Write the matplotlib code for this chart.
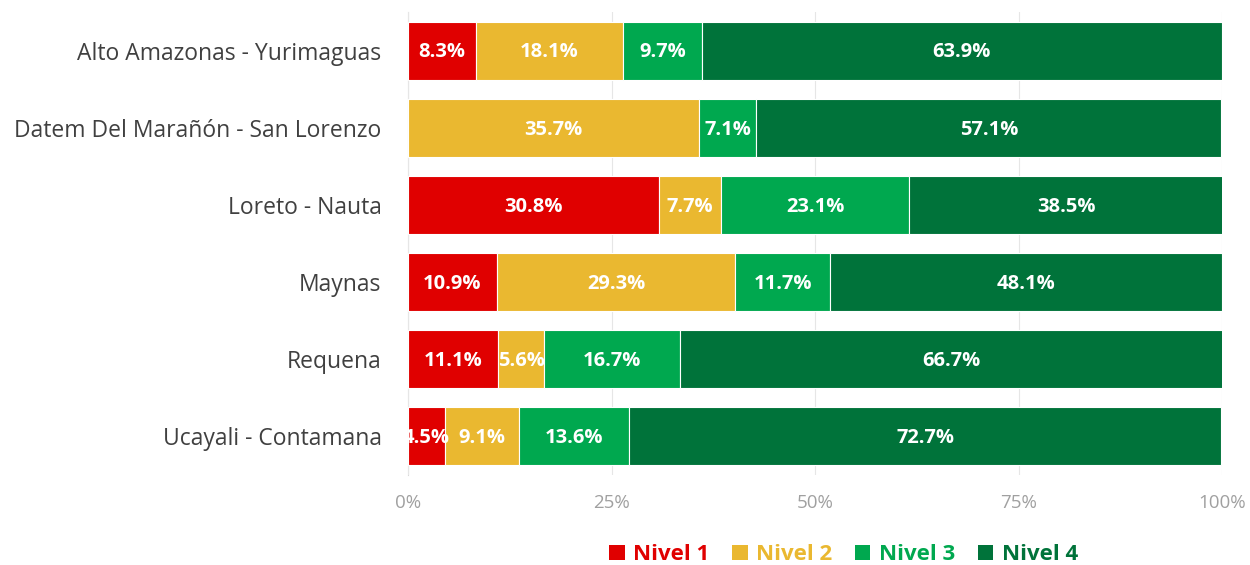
import matplotlib
matplotlib.use("Agg")
import matplotlib.pyplot as plt
from matplotlib.patches import Patch

categories = ["Alto Amazonas - Yurimaguas", "Datem Del Marañón - San Lorenzo",
              "Loreto - Nauta", "Maynas", "Requena", "Ucayali - Contamana"]
nivel1 = [8.3, 0.0, 30.8, 10.9, 11.1, 4.5]
nivel2 = [18.1, 35.7, 7.7, 29.3, 5.6, 9.1]
nivel3 = [9.7, 7.1, 23.1, 11.7, 16.7, 13.6]
nivel4 = [63.9, 57.1, 38.5, 48.1, 66.7, 72.7]
series_names = ["Nivel 1", "Nivel 2", "Nivel 3", "Nivel 4"]
colors = ["#E00000", "#EAB830", "#00A84F", "#00733A"]
xticks = [0, 25, 50, 75, 100]

plt.rcParams["font.family"] = ["Open Sans", "DejaVu Sans"]
fig = plt.figure(figsize=(12.5, 5.65), dpi=100)
ax = fig.add_axes([0.3264, 0.160, 0.6512, 0.818])

ypos = list(range(len(categories)))
left = [0.0] * len(categories)
for vals, col in zip([nivel1, nivel2, nivel3, nivel4], colors):
    bars = ax.barh(ypos, vals, left=left, height=0.75, color=col,
                   edgecolor="white", linewidth=0.8, zorder=2)
    for b, v in zip(bars, vals):
        if v > 0:
            ax.text(b.get_x() + b.get_width() / 2, b.get_y() + b.get_height() / 2 + 0.02,
                    f"{v:.1f}%", ha="center", va="center", color="white",
                    fontsize=14.5, fontweight="bold", zorder=3)
    left = [l + v for l, v in zip(left, vals)]

ax.set_xlim(0, 100)
ax.set_ylim(len(categories) - 0.5, -0.5)
ax.set_yticks(ypos)
ax.set_yticklabels(categories, fontsize=16.5, color="#404040")
ax.set_xticks(xticks)
ax.set_xticklabels([f"{t}%" for t in xticks], fontsize=13.5, color="#A0A0A0")
ax.tick_params(axis="both", length=0)
ax.tick_params(axis="y", pad=19)
ax.tick_params(axis="x", pad=14)
ax.grid(axis="x", color="#E6E6E6", linewidth=0.8, zorder=0)
for s in ["top", "right", "bottom"]:
    ax.spines[s].set_visible(False)
ax.spines["left"].set_color("#D9D9D9")
ax.spines["left"].set_zorder(1)

handles = [Patch(facecolor=c, edgecolor="none") for c in colors]
fig.legend(handles, series_names, loc="center", bbox_to_anchor=(0.675, 0.018),
           ncol=4, frameon=False, labelcolor=colors, handlelength=0.7,
           handleheight=0.7, handletextpad=0.4, columnspacing=1.0,
           prop={"weight": "bold", "size": 16})

fig.savefig("out.png", dpi=100)
